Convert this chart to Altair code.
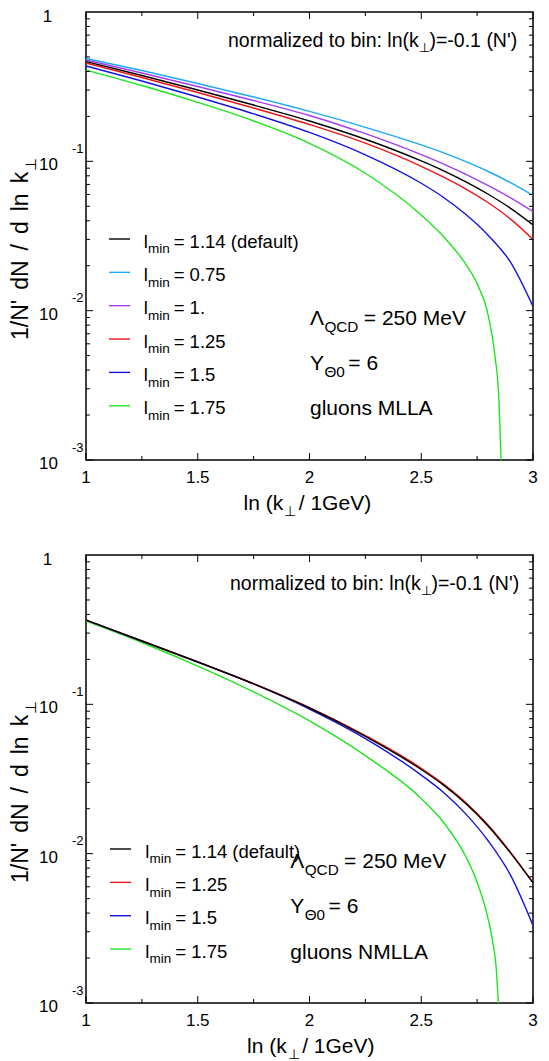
import altair as alt
import pandas as pd

# ---------------- data ----------------
X_TOP = [1.0, 1.25, 1.5, 1.75, 2.0, 2.25, 2.5, 2.6, 2.7, 2.8, 2.9, 3.0]
X_TOP_GREEN = [1.0, 1.25, 1.5, 1.75, 2.0, 2.25, 2.5, 2.6, 2.7, 2.75, 2.8, 2.83, 2.848, 2.857]
TOP_114 = [0.466, 0.3756, 0.3003, 0.2383, 0.1862, 0.1405, 0.1006, 0.0864, 0.0729, 0.0602, 0.0484, 0.0375]
TOP_075 = [0.4887, 0.4055, 0.3319, 0.2698, 0.2158, 0.1690, 0.1288, 0.1140, 0.0995, 0.0855, 0.0719, 0.0590]
TOP_100 = [0.4769, 0.3903, 0.3170, 0.2553, 0.2028, 0.1531, 0.1109, 0.0959, 0.0818, 0.0687, 0.0569, 0.0461]
TOP_125 = [0.4553, 0.3641, 0.2889, 0.2275, 0.1764, 0.1323, 0.0926, 0.0784, 0.0652, 0.0528, 0.0410, 0.0300]
TOP_150 = [0.4347, 0.3449, 0.2696, 0.2081, 0.1561, 0.1105, 0.0713, 0.0573, 0.0440, 0.0319, 0.02105, 0.01067]
TOP_175 = [0.4088, 0.3219, 0.2484, 0.1863, 0.1319, 0.0832, 0.0437, 0.0313, 0.0204, 0.01514, 0.00923, 0.00496, 0.00245, 0.001]

X_BOT = [1.0, 1.25, 1.5, 1.75, 2.0, 2.25, 2.5, 2.6, 2.7, 2.8, 2.9, 3.0]
X_BOT_GREEN = [1.0, 1.25, 1.5, 1.75, 2.0, 2.25, 2.5, 2.6, 2.7, 2.75, 2.8, 2.82, 2.835, 2.845]
BOT_114 = [0.367, 0.2655, 0.192, 0.1372, 0.0945, 0.0610, 0.0366, 0.02877, 0.02158, 0.01528, 0.01009, 0.00637]
BOT_125 = [0.367, 0.2657, 0.1925, 0.1378, 0.0952, 0.0618, 0.0373, 0.0292, 0.0219, 0.0155, 0.0102, 0.0064]
BOT_150 = [0.367, 0.2655, 0.192, 0.1370, 0.0930, 0.0590, 0.0336, 0.0257, 0.0184, 0.01216, 0.00716, 0.00331]
BOT_175 = [0.361, 0.2594, 0.1805, 0.1213, 0.0774, 0.0453, 0.0234, 0.01618, 0.00953, 0.00644, 0.00362, 0.00256, 0.00175, 0.001]

TOP_LABELS = ["1.14 (default)", "0.75", "1.", "1.25", "1.5", "1.75"]
TOP_COLORS = ["#000000", "#1fa8f5", "#a53cf0", "#f01414", "#1414e0", "#1ee61e"]
BOT_LABELS = ["1.14 (default)", "1.25", "1.5", "1.75"]
BOT_COLORS = ["#000000", "#f01414", "#1414e0", "#1ee61e"]

X_MAJOR = [1.0, 1.5, 2.0, 2.5, 3.0]
X_MAJOR_TEXT = ["1", "1.5", "2", "2.5", "3"]
X_MINOR = [1.25, 1.75, 2.25, 2.75]
DECADES = [0.1, 0.01, 0.001]
DECADE_EXP = ["-1", "-2", "-3"]
Y_MINOR = [m * d for d in [0.1, 0.01, 0.001] for m in range(2, 10)]
Y_TITLE_WORDS = ["1/N'", "dN", "/", "d", "ln", "k"]

# ---------------- layout helpers ----------------
W, H = 447, 448
FONT = "Liberation Sans"
xs = alt.Scale(domain=[1, 3], nice=False, zero=False)
ys = alt.Scale(type="log", domain=[0.001, 1], nice=False)

AW = {' ': .278, "'": .191, '(': .333, ')': .333, '-': .333, '.': .278, '/': .278, ':': .278,
      '=': .584, 'A': .667, 'C': .722, 'D': .722, 'G': .778, 'L': .556, 'M': .833, 'N': .722,
      'Q': .778, 'V': .667, 'Y': .667, 'f': .278, 'i': .222, 'k': .5, 'l': .222, 'm': .833,
      'r': .333, 's': .5, 't': .278, 'z': .5, 'Λ': .667, 'Θ': .778, '⊥': .75}


def tw(s, size):
    return sum(AW.get(c, 0.556) for c in s) * size


def one():
    return pd.DataFrame({"d": [0]})


def txt(x, y, s, size, align="left", angle=0):
    return alt.Chart(one()).mark_text(
        align=align, baseline="alphabetic", fontSize=size, font=FONT, angle=angle, color="black"
    ).encode(x=alt.value(x), y=alt.value(y), text=alt.value(s))


def chain(x, y, parts):
    out = []
    for s, size, dy, gap in parts:
        x += gap
        out.append(txt(x, y + dy, s, size))
        x += tw(s, size)
    return out


def line(xv, yv, color):
    df = pd.DataFrame({"x": xv, "y": yv})
    return alt.Chart(df).mark_line(color=color, strokeWidth=1.4, interpolate="monotone", clip=True).encode(
        x=alt.X("x:Q", scale=xs, axis=None), y=alt.Y("y:Q", scale=ys, axis=None))


def frame_ticks():
    out = []
    for vals, ln in [(X_MAJOR, 7), (X_MINOR, 4)]:
        df = pd.DataFrame({"x": vals})
        b = alt.Chart(df).mark_rule(color="black", strokeWidth=1)
        xe = alt.X("x:Q", scale=xs, axis=None)
        out.append(b.encode(x=xe, y=alt.value(H), y2=alt.value(H - ln)))
        out.append(b.encode(x=xe, y=alt.value(0), y2=alt.value(ln)))
    for vals, ln in [(DECADES, 7), (Y_MINOR, 4)]:
        df = pd.DataFrame({"y": vals})
        b = alt.Chart(df).mark_rule(color="black", strokeWidth=1)
        ye = alt.Y("y:Q", scale=ys, axis=None)
        out.append(b.encode(y=ye, x=alt.value(0), x2=alt.value(ln)))
        out.append(b.encode(y=ye, x=alt.value(W), x2=alt.value(W - ln)))
    return out


def axis_texts(xt0):
    out = []
    df = pd.DataFrame({"x": X_MAJOR, "t": X_MAJOR_TEXT})
    out.append(alt.Chart(df).mark_text(align="center", baseline="alphabetic", fontSize=17, font=FONT,
                                       color="black").encode(
        x=alt.X("x:Q", scale=xs, axis=None), y=alt.value(H + 23), text="t:N"))
    out.append(txt(-38.5, 9.5, "1", 17, align="center"))
    dfy = pd.DataFrame({"y": DECADES, "e": DECADE_EXP})
    ye = alt.Y("y:Q", scale=ys, axis=None)
    out.append(alt.Chart(dfy).mark_text(align="left", baseline="alphabetic", fontSize=17, font=FONT,
                                        color="black", dy=9).encode(y=ye, x=alt.value(-47), text=alt.value("10")))
    out.append(alt.Chart(dfy).mark_text(align="left", baseline="alphabetic", fontSize=13, font=FONT,
                                        color="black", dy=-8.3).encode(y=ye, x=alt.value(-14), text="e:N"))
    out += chain(xt0, H + 50, [("ln (k", 21, 0, 0), ("⊥", 14, 6, 1), ("/ 1GeV)", 21, 0, 4)])
    # rotated y title, word by word (reading upwards)
    y = 328
    fs = 23
    for i, w in enumerate(Y_TITLE_WORDS):
        out.append(txt(-58, y, w, fs, angle=270))
        y -= tw(w, fs) + (10 if i < len(Y_TITLE_WORDS) - 1 else 1)
    out.append(txt(-50, y, "⊥", 15, angle=270))
    return out


def legend(rows0, seg_x0, txt_x0, labels, colors):
    out = []
    for i, (lab, col) in enumerate(zip(labels, colors)):
        r = rows0 + i * 33.35
        out.append(alt.Chart(one()).mark_rule(color=col, strokeWidth=1.4).encode(
            x=alt.value(seg_x0), x2=alt.value(seg_x0 + 21), y=alt.value(r)))
        out += chain(txt_x0, r + 8.7, [("l", 18.5, 0, 0), ("min", 13.5, 5.7, 0.1), ("= " + lab, 18.5, 0, 4)])
    return out


def annots(x0, base, norm_x0, name):
    out = []
    out += chain(norm_x0, 35, [("normalized to bin: ln(k", 19.5, 0, 0), ("⊥", 13, 5, 0.5),
                               (")=-0.1 (N')", 19.5, 0, 0.5)])
    out += chain(x0, base, [("Λ", 21, 0, 0), ("QCD", 15.3, 7, 0.4), ("= 250 MeV", 21, 0, 5.4)])
    out += chain(x0, base + 45, [("Y", 21, 0, 0), ("Θ0", 15.3, 7, 0.4), ("= 6", 21, 0, 3.5)])
    out += chain(x0, base + 90.5, [(name, 21, 0, 0)])
    return out


def anchor(top, bottom):
    return alt.Chart(one()).mark_rule(color="white", strokeWidth=1).encode(
        x=alt.value(-84), x2=alt.value(-84), y=alt.value(top), y2=alt.value(bottom))


# ---------------- top panel ----------------
top_layers = [anchor(-10, 524)]
top_layers += [line(X_TOP, TOP_075, TOP_COLORS[1]), line(X_TOP, TOP_100, TOP_COLORS[2]),
               line(X_TOP, TOP_125, TOP_COLORS[3]), line(X_TOP, TOP_150, TOP_COLORS[4]),
               line(X_TOP_GREEN, TOP_175, TOP_COLORS[5]), line(X_TOP, TOP_114, TOP_COLORS[0])]
top_layers += frame_ticks()
top_layers += axis_texts(157.6)
top_layers += legend(227, 23, 57.7, TOP_LABELS, TOP_COLORS)
top_layers += annots(224, 312.5, 142, "gluons MLLA")
top = alt.layer(*top_layers).properties(width=W, height=H)

# ---------------- bottom panel ----------------
bot_layers = [anchor(-15, H + 58)]
bot_layers += [line(X_BOT_GREEN, BOT_175, BOT_COLORS[3]), line(X_BOT, BOT_150, BOT_COLORS[2]),
               line(X_BOT, BOT_125, BOT_COLORS[1]), line(X_BOT, BOT_114, BOT_COLORS[0])]
bot_layers += frame_ticks()
bot_layers += axis_texts(161)
bot_layers += legend(294, 24, 59.3, BOT_LABELS, BOT_COLORS)
bot_layers += annots(204.3, 313, 144, "gluons NMLLA")
bot = alt.layer(*bot_layers).properties(width=W, height=H)

chart = alt.vconcat(top, bot, spacing=0).properties(padding=0, background="white").configure_view(
    stroke="black", strokeWidth=1.5)

chart.save("out.html", embed_options={"renderer": "svg", "actions": False})
